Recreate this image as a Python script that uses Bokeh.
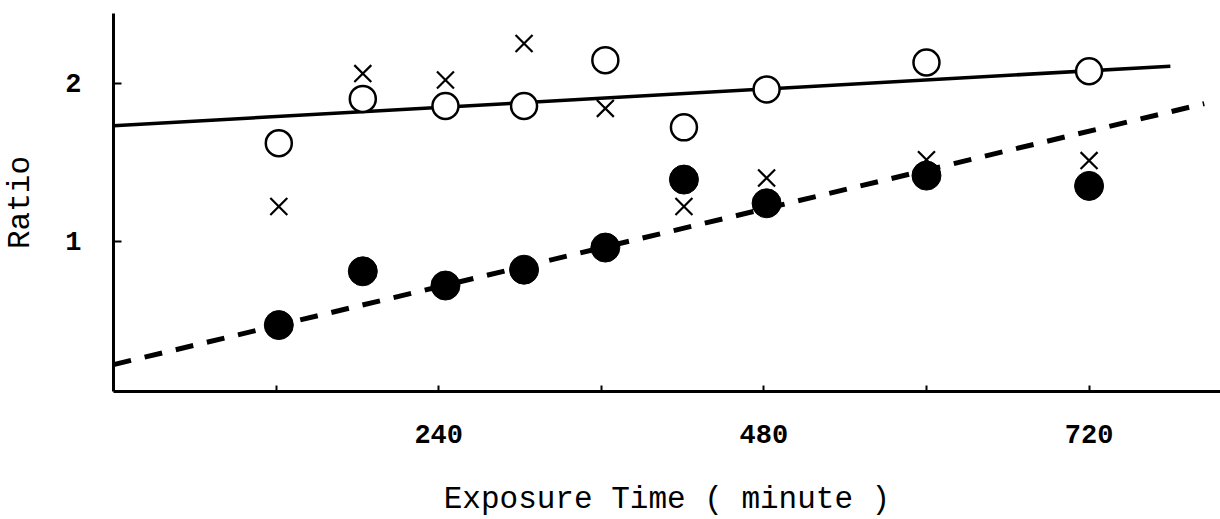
from bokeh.plotting import figure
from bokeh.models import Range1d, FixedTicker, ColumnDataSource
from bokeh.embed import file_html
from bokeh.resources import INLINE

# Data
time_min = [122, 184, 245, 303, 363, 421, 482, 600, 720]
open_ratio = [1.62, 1.90, 1.855, 1.855, 2.145, 1.72, 1.96, 2.13, 2.075]
filled_ratio = [0.47, 0.81, 0.72, 0.82, 0.96, 1.39, 1.24, 1.415, 1.35]
cross_ratio = [1.22, 2.06, 2.02, 2.25, 1.84, 1.22, 1.40, 1.515, 1.51]

# Fitted trend lines (end points)
solid_fit_x = [0, 780]
solid_fit_y = [1.73, 2.107]
dashed_fit_x = [0, 805]
dashed_fit_y = [0.22, 1.87]

x_ticks = [120, 240, 360, 480, 600, 720]
x_tick_labels = {120: "", 240: "240", 360: "", 480: "480", 600: "", 720: "720"}
y_ticks = [1, 2]

MONO = "Liberation Mono"

p = figure(width=1220, height=519, output_backend="svg", toolbar_location=None,
           x_range=Range1d(0, 817), y_range=Range1d(0.05, 2.44),
           min_border_left=113, min_border_right=0, min_border_top=13,
           min_border_bottom=126, x_axis_location="below", y_axis_location="left")
p.outline_line_color = None
p.grid.visible = False
p.background_fill_color = "white"
p.border_fill_color = "white"

# trend lines
p.line(solid_fit_x, solid_fit_y, line_color="black", line_width=3.5)
p.line(dashed_fit_x, dashed_fit_y, line_color="black", line_width=5,
       line_dash="18 14")

src = ColumnDataSource(dict(t=time_min, o=open_ratio, f=filled_ratio, c=cross_ratio))
p.scatter("t", "o", source=src, marker="circle", size=26, fill_color="white",
          line_color="black", line_width=2.5)
p.scatter("t", "f", source=src, marker="circle", size=29, fill_color="black",
          line_color="black", line_width=1)
p.scatter("t", "c", source=src, marker="x", size=24, line_color="black",
          line_width=2.2)

# axes
xa = p.xaxis[0]
xa.ticker = FixedTicker(ticks=x_ticks)
xa.major_label_overrides = x_tick_labels
xa.axis_line_width = 3
xa.axis_line_color = "black"
xa.major_tick_in = 6
xa.major_tick_out = 0
xa.major_tick_line_width = 2
xa.minor_tick_line_color = None
xa.major_label_standoff = 33
xa.major_label_text_font = MONO
xa.major_label_text_font_size = "27px"
xa.major_label_text_font_style = "bold"
xa.major_label_text_color = "black"
xa.axis_label = "Exposure Time ( minute )"
xa.axis_label_text_font = MONO
xa.axis_label_text_font_size = "31px"
xa.axis_label_text_font_style = "normal"
xa.axis_label_standoff = 36
xa.axis_label_text_color = "black"

ya = p.yaxis[0]
ya.ticker = FixedTicker(ticks=y_ticks)
ya.axis_line_width = 3
ya.axis_line_color = "black"
ya.major_tick_in = 8
ya.major_tick_out = 0
ya.major_tick_line_width = 2
ya.minor_tick_line_color = None
ya.major_label_standoff = 32
ya.major_label_text_font = MONO
ya.major_label_text_font_size = "27px"
ya.major_label_text_font_style = "bold"
ya.major_label_text_color = "black"
ya.axis_label = "Ratio"
ya.axis_label_text_font = MONO
ya.axis_label_text_font_size = "31px"
ya.axis_label_text_font_style = "normal"
ya.axis_label_standoff = 24
ya.axis_label_text_color = "black"

open("out.html", "w").write(file_html(p, INLINE))
